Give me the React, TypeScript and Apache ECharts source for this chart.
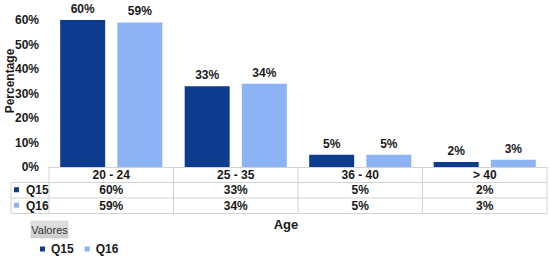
import React, { useEffect, useRef } from "react";
import * as echarts from "echarts";

const categories = ["20 - 24", "25 - 35", "36 - 40", "> 40"];
const seriesNames = ["Q15", "Q16"];
const q15 = [60, 33, 5, 2];
const q16 = [59, 34, 5, 3];
const yTicks = [0, 10, 20, 30, 40, 50, 60];

const COLORS = ["#0d3b8f", "#8db3f5"];
const FONT = "Liberation Sans, Arial, sans-serif";
const GRID_L = 49;
const GRID_R = 547;
const GRID_T = 20;
const GRID_B = 167;
const ROW_H = 15.5;
const LINE = "#d3d3d3";

export default function App() {
  const ref = useRef<HTMLDivElement>(null);
  useEffect(() => {
    if (!ref.current) return;
    const chart = echarts.init(ref.current, null, { renderer: "svg" });
    const data = [q15, q16];
    const colW = (GRID_R - GRID_L) / categories.length;
    const graphics: any[] = [];
    const line = (x1: number, y1: number, x2: number, y2: number) =>
      graphics.push({
        type: "line",
        shape: { x1, y1, x2, y2 },
        style: { stroke: LINE, lineWidth: 1 },
        silent: true,
      });
    const tableBottom = GRID_B + ROW_H * 3;
    line(GRID_L, GRID_B + 0.5, GRID_R, GRID_B + 0.5);
    for (let r = 1; r <= 3; r++) {
      line(11, GRID_B + ROW_H * r, GRID_R, GRID_B + ROW_H * r);
    }
    line(11, GRID_B + ROW_H, 11, tableBottom);
    for (let c = 0; c <= categories.length; c++) {
      const x = GRID_L + colW * c;
      line(x, GRID_B, x, tableBottom);
    }
    const txt = (x: number, y: number, text: string, align = "center") =>
      graphics.push({
        type: "text",
        x,
        y,
        style: {
          text,
          fontFamily: FONT,
          fontWeight: "bold",
          fontSize: 12,
          fill: "#1a1a1a",
          align,
          verticalAlign: "middle",
        },
        silent: true,
      });
    categories.forEach((cat, i) => {
      const cx = GRID_L + colW * (i + 0.5);
      txt(cx, GRID_B + ROW_H * 0.5 + 0.5, cat);
      data.forEach((d, s) => {
        txt(cx, GRID_B + ROW_H * (s + 1.5), d[i] + "%");
      });
    });
    seriesNames.forEach((name, s) => {
      const cy = GRID_B + ROW_H * (s + 1.5);
      graphics.push({
        type: "rect",
        shape: { x: 14, y: cy - 3, width: 5, height: 5 },
        style: { fill: COLORS[s] },
        silent: true,
      });
      txt(26, cy, name, "left");
    });
    graphics.push({
      type: "text",
      x: 286,
      y: 224,
      style: {
        text: "Age",
        fontFamily: FONT,
        fontWeight: "bold",
        fontSize: 13,
        fill: "#1a1a1a",
        align: "center",
        verticalAlign: "middle",
      },
      silent: true,
    });
    graphics.push({
      type: "text",
      x: 10,
      y: 81,
      rotation: Math.PI / 2,
      style: {
        text: "Percentage",
        fontFamily: FONT,
        fontWeight: "bold",
        fontSize: 12,
        fill: "#1a1a1a",
        align: "center",
        verticalAlign: "middle",
      },
      silent: true,
    });
    graphics.push({
      type: "rect",
      shape: { x: 31, y: 221, width: 37, height: 17 },
      style: {
        fill: new echarts.graphic.LinearGradient(0, 0, 0, 1, [
          { offset: 0, color: "#e2e2e2" },
          { offset: 1, color: "#cdcdcd" },
        ]),
        stroke: "#c4c4c4",
        lineWidth: 0.5,
      },
      silent: true,
    });
    graphics.push({
      type: "text",
      x: 49.5,
      y: 229.5,
      style: {
        text: "Valores",
        fontFamily: FONT,
        fontSize: 11,
        fill: "#333",
        align: "center",
        verticalAlign: "middle",
      },
      silent: true,
    });

    chart.setOption({
      animation: false,
      backgroundColor: "#ffffff",
      textStyle: { fontFamily: FONT },
      grid: {
        left: GRID_L,
        right: 550 - GRID_R,
        top: GRID_T,
        bottom: 257 - GRID_B,
        containLabel: false,
        outerBoundsMode: "none",
      },
      legend: {
        data: seriesNames,
        left: 40,
        top: 243,
        icon: "rect",
        itemWidth: 5,
        itemHeight: 5,
        itemGap: 11,
        padding: 0,
        textStyle: {
          fontFamily: FONT,
          fontWeight: "bold",
          fontSize: 12,
          color: "#1a1a1a",
          padding: [0, 0, 0, 1],
        },
      },
      xAxis: {
        type: "category",
        data: categories,
        axisLabel: { show: false },
        axisTick: { show: false },
        axisLine: { show: false },
      },
      yAxis: {
        type: "value",
        min: 0,
        max: 60,
        interval: 10,
        axisLabel: {
          formatter: (v: number) => (yTicks.includes(v) ? v + "%" : ""),
          fontFamily: FONT,
          fontWeight: "bold",
          fontSize: 12,
          color: "#1a1a1a",
          margin: 10,
        },
        splitLine: { show: false },
        axisLine: { show: false },
        axisTick: { show: false },
      },
      series: seriesNames.map((name, s) => ({
        name,
        type: "bar",
        data: data[s],
        barWidth: 45,
        barGap: "27%",
        itemStyle: { color: COLORS[s] },
        label: {
          show: true,
          position: "top",
          distance: 5,
          formatter: "{c}%",
          fontFamily: FONT,
          fontWeight: "bold",
          fontSize: 12,
          color: "#1a1a1a",
        },
      })),
      graphic: graphics,
    });
    return () => chart.dispose();
  }, []);
  return <div ref={ref} style={{ width: 550, height: 257, position: "absolute", left: 0, top: 0 }} />;
}
